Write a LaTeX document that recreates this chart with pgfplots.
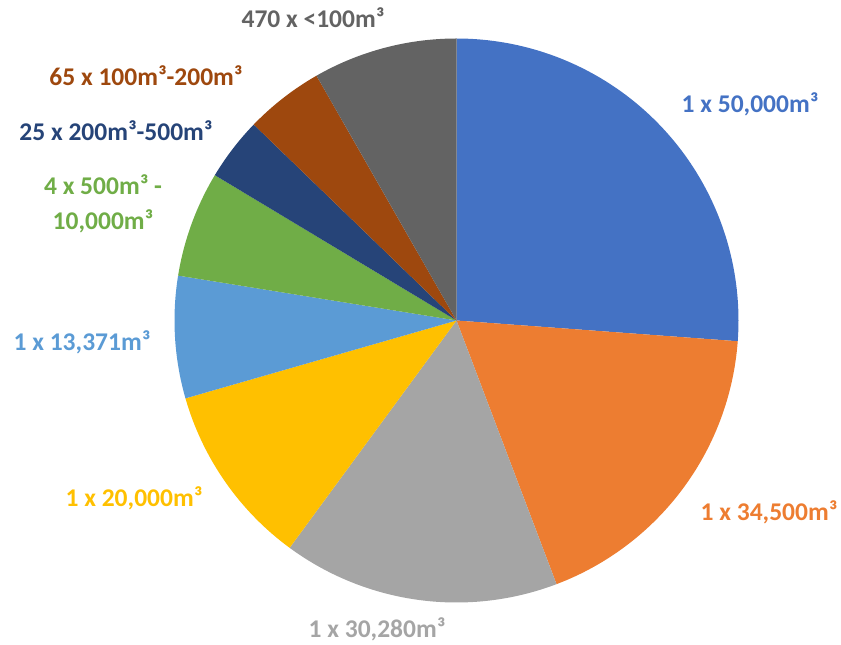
\documentclass[border=0pt]{standalone}
\usepackage{pgfplots}
\pgfplotsset{compat=1.18}
\usepackage{fontspec}
\setmainfont{Carlito}
\definecolor{c1}{HTML}{4472C4}
\definecolor{c2}{HTML}{ED7D31}
\definecolor{c3}{HTML}{A5A5A5}
\definecolor{c4}{HTML}{FFC000}
\definecolor{c5}{HTML}{5B9BD5}
\definecolor{c6}{HTML}{70AD47}
\definecolor{c7}{HTML}{264478}
\definecolor{c8}{HTML}{9E480E}
\definecolor{c9}{HTML}{636363}
% values (m^3), clockwise from 12 o'clock
\def\vA{50000}\def\vB{34500}\def\vC{30280}\def\vD{20000}\def\vE{13371}
\def\vF{11600}\def\vG{6900}\def\vH{8600}\def\vI{15800}
\edef\tot{\fpeval{\vA+\vB+\vC+\vD+\vE+\vF+\vG+\vH+\vI}}
\newcommand\ang[1]{360*#1/\tot}
\edef\aA{90}
\edef\aB{\fpeval{round(\aA-\ang{\vA},4)}}
\edef\aC{\fpeval{round(\aB-\ang{\vB},4)}}
\edef\aD{\fpeval{round(\aC-\ang{\vC},4)}}
\edef\aE{\fpeval{round(\aD-\ang{\vD},4)}}
\edef\aF{\fpeval{round(\aE-\ang{\vE},4)}}
\edef\aG{\fpeval{round(\aF-\ang{\vF},4)}}
\edef\aH{\fpeval{round(\aG-\ang{\vG},4)}}
\edef\aI{\fpeval{round(\aH-\ang{\vH},4)}}
\edef\aJ{-270}
\def\cx{456.5}\def\cy{324.5}\def\rr{282}
\newcommand\slice[3]{\addplot[fill=#3, draw=none, domain=#1:#2, samples=90, variable=\t] ({\cx+\rr*cos(\t)},{\cy+\rr*sin(\t)}) -- (axis cs:\cx,\cy) -- cycle;}
\begin{document}
\begin{tikzpicture}
\begin{axis}[width=841pt, height=645pt, scale only axis,
  xmin=0, xmax=841, ymin=0, ymax=645, axis lines=none,
  clip=false]
\slice{\aB}{\aA}{c1}
\slice{\aC}{\aB}{c2}
\slice{\aD}{\aC}{c3}
\slice{\aE}{\aD}{c4}
\slice{\aF}{\aE}{c5}
\slice{\aG}{\aF}{c6}
\slice{\aH}{\aG}{c7}
\slice{\aI}{\aH}{c8}
\slice{\aJ}{\aI}{c9}
\begin{scope}[every node/.style={font=\fontsize{25.5}{35}\selectfont\bfseries, inner sep=0pt}]
\node[text=c1] at (axis cs:750,541) {1 x 50,000m³};
\node[text=c2] at (axis cs:769,133) {1 x 34,500m³};
\node[text=c3] at (axis cs:377,16) {1 x 30,280m³};
\node[text=c4] at (axis cs:134,147) {1 x 20,000m³};
\node[text=c5] at (axis cs:82,303) {1 x 13,371m³};
\node[text=c6, align=center] at (axis cs:103,441) {4 x 500m³ -\\10,000m³};
\node[text=c7] at (axis cs:116,514) {25 x 200m³-500m³};
\node[text=c8] at (axis cs:146,569) {65 x 100m³-200m³};
\node[text=c9] at (axis cs:313,627) {470 x <100m³};
\end{scope}
\end{axis}
\pgfresetboundingbox
\useasboundingbox (current axis.south west) rectangle (current axis.north east);
\end{tikzpicture}
\end{document}
